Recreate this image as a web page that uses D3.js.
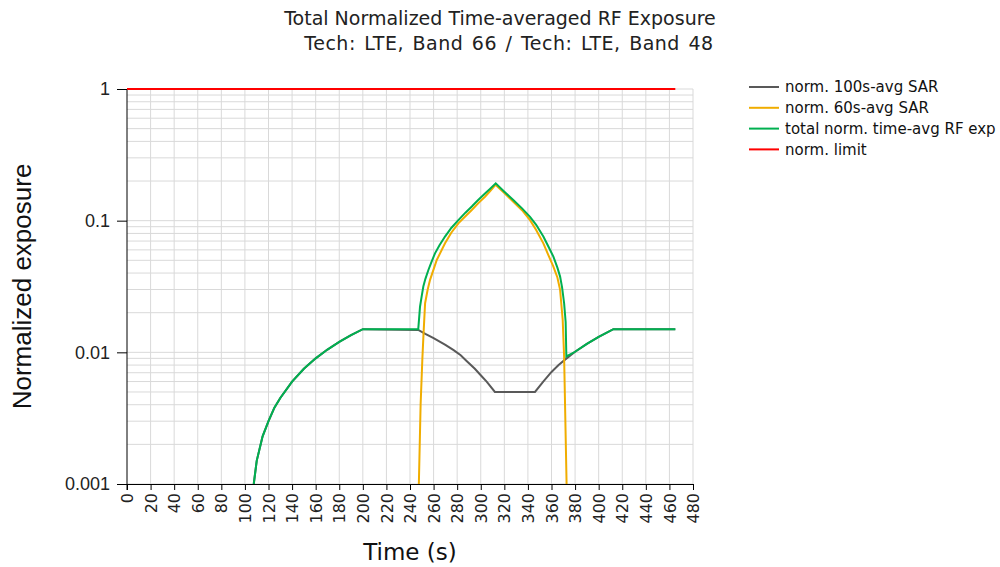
<!DOCTYPE html>
<html>
<head>
<meta charset="utf-8">
<script src="https://cdn.jsdelivr.net/npm/d3@7"></script>
<style>
  body { margin: 0; background: #fff; }
  .grid line { stroke: #d9d9d9; stroke-width: 1; }
  .axis path, .axis line { stroke: #000; }
</style>
</head>
<body>
<div id="chart"></div>
<script>
// time (s) and normalized values
var greyT = [107.5, 110, 115, 120, 125, 130, 140, 150, 160, 170, 180, 190, 200, 247, 253, 260, 270, 277, 283, 288, 295, 300, 305, 312, 346, 353, 360, 366, 371.5, 380, 390, 400, 412.5, 465];
var greyV = [0.001, 0.0015, 0.0023, 0.003, 0.0038, 0.0045, 0.006, 0.0075, 0.009, 0.0105, 0.012, 0.0135, 0.015, 0.0148, 0.0138, 0.0128, 0.0114, 0.0104, 0.0095, 0.0086, 0.0075, 0.0067, 0.006, 0.005, 0.005, 0.006, 0.0071, 0.008, 0.0088, 0.0101, 0.0116, 0.0131, 0.015, 0.015];

var orangeT = [247.5, 249, 250.5, 251.5, 252.8, 255, 257, 262.7, 269.7, 275, 281, 287, 292.4, 298, 303.6, 308, 312.5, 320, 327.6, 335, 341.8, 347, 353.1, 358, 361.6, 365, 367.3, 369.5, 370.7, 372.8];
var orangeV = [0.001, 0.004, 0.009, 0.014, 0.0236, 0.03, 0.0355, 0.0503, 0.0673, 0.081, 0.0955, 0.108, 0.1205, 0.136, 0.152, 0.168, 0.187, 0.162, 0.139, 0.12, 0.101, 0.085, 0.0673, 0.053, 0.0448, 0.037, 0.0298, 0.0176, 0.0093, 0.001];

var greenT = [107.5, 110, 115, 120, 125, 130, 140, 150, 160, 170, 180, 190, 200, 247, 248.5, 250, 251.3, 253, 255.6, 258, 261.2, 265, 269.7, 275, 281, 287, 292.4, 298, 303.6, 308, 312.7, 320, 327.6, 335, 341.8, 347, 353.1, 358, 361.6, 365, 367.3, 369, 370.7, 372, 372.6, 380, 390, 400, 412.5, 465];
var greenV = [0.001, 0.0015, 0.0023, 0.003, 0.0038, 0.0045, 0.006, 0.0075, 0.009, 0.0105, 0.012, 0.0135, 0.015, 0.015, 0.0222, 0.027, 0.0316, 0.036, 0.0422, 0.048, 0.0565, 0.065, 0.0757, 0.088, 0.101, 0.115, 0.128, 0.144, 0.161, 0.175, 0.192, 0.166, 0.1436, 0.124, 0.107, 0.093, 0.0757, 0.062, 0.0533, 0.044, 0.0376, 0.031, 0.0236, 0.017, 0.0093, 0.0101, 0.0116, 0.0131, 0.015, 0.015];

var limitT = [0, 465];
var limitV = [1, 1];

var seriesNames = ["norm. 100s-avg SAR", "norm. 60s-avg SAR", "total norm. time-avg RF exp", "norm. limit"];
var seriesColors = ["#595959", "#f0ad00", "#00b050", "#ff0000"];

var xTicks = d3.range(0, 481, 20);
var yTicks = [0.001, 0.01, 0.1, 1];

document.addEventListener("DOMContentLoaded", function() {
    var W = 1000, H = 567;
    var margin = {left: 127, top: 89, right: 307, bottom: 83};
    var width = W - margin.left - margin.right;
    var height = H - margin.top - margin.bottom;

    var svg = d3.select("#chart").append("svg")
        .attr("width", W).attr("height", H);

    var x = d3.scaleLinear().domain([0, 480]).range([0, width]);
    var y = d3.scaleLog().domain([0.001, 1]).range([height, 0]);

    var g = svg.append("g")
        .attr("transform", "translate(" + margin.left + "," + margin.top + ")");

    // grid
    g.append("g").attr("class", "grid")
        .selectAll("line").data(y.ticks()).enter().append("line")
        .attr("x1", 0).attr("x2", width)
        .attr("y1", d => y(d)).attr("y2", d => y(d));
    g.append("g").attr("class", "grid")
        .selectAll("line").data(xTicks.slice(1)).enter().append("line")
        .attr("x1", d => x(d)).attr("x2", d => x(d))
        .attr("y1", 0).attr("y2", height);

    // axes
    var xAxis = g.append("g").attr("class", "axis")
        .attr("transform", "translate(0," + height + ")")
        .call(d3.axisBottom(x).tickValues(xTicks).tickSize(6).tickSizeOuter(0));
    xAxis.selectAll("text")
        .attr("transform", "rotate(-90)")
        .attr("x", -9).attr("y", 0).attr("dy", "0.35em")
        .style("text-anchor", "end")
        .style("font-family", "DejaVu Sans")
        .style("font-size", "16px")
        .style("fill", "#222");

    var yAxis = g.append("g").attr("class", "axis")
        .call(d3.axisLeft(y).tickValues(yTicks).tickFormat(d3.format("~g")).tickSize(10).tickSizeOuter(0));
    yAxis.selectAll("text")
        .attr("x", -17)
        .style("font-family", "Liberation Sans")
        .style("font-size", "18px")
        .style("fill", "#222");
    yAxis.select(".domain").attr("d", "M0,0V" + (height + 6));

    // lines
    svg.append("clipPath").attr("id", "clip")
        .append("rect").attr("width", width).attr("height", height + 1).attr("y", -1);

    var series = [
        {t: greyT, v: greyV},
        {t: orangeT, v: orangeV},
        {t: greenT, v: greenV},
        {t: limitT, v: limitV}
    ];

    var line = d3.line()
        .x(d => x(d[0]))
        .y(d => y(d[1]));

    series.forEach(function(s, i) {
        var pts = s.t.map((t, k) => [t, s.v[k]]);
        g.append("path")
            .datum(pts)
            .attr("clip-path", "url(#clip)")
            .attr("fill", "none")
            .attr("stroke", seriesColors[i])
            .attr("stroke-width", 2)
            .attr("d", line);
    });

    // titles
    svg.append("text")
        .attr("x", 500).attr("y", 25)
        .attr("text-anchor", "middle")
        .style("font-family", "DejaVu Sans").style("font-size", "19px").style("fill", "#222")
        .text("Total Normalized Time-averaged RF Exposure");
    svg.append("text")
        .attr("x", 509).attr("y", 50)
        .attr("text-anchor", "middle")
        .style("font-family", "DejaVu Sans").style("font-size", "19px").style("fill", "#222")
        .style("letter-spacing", "0.5px").style("word-spacing", "2px")
        .text("Tech: LTE, Band 66 / Tech: LTE, Band 48");

    svg.append("text")
        .attr("transform", "translate(31," + (margin.top + height / 2) + ") rotate(-90)")
        .attr("text-anchor", "middle")
        .style("font-family", "Liberation Sans").style("font-size", "26px").style("fill", "#111")
        .text("Normalized exposure");
    svg.append("text")
        .attr("x", margin.left + width / 2).attr("y", 560)
        .attr("text-anchor", "middle")
        .style("font-family", "DejaVu Sans").style("font-size", "23px").style("fill", "#111")
        .text("Time (s)");

    // legend
    var leg = svg.append("g").attr("transform", "translate(749,87)");
    seriesNames.forEach(function(n, i) {
        var row = leg.append("g").attr("transform", "translate(0," + (i * 20.8) + ")");
        row.append("line").attr("x1", 0).attr("x2", 30)
            .attr("stroke", seriesColors[i]).attr("stroke-width", 2);
        row.append("text").attr("x", 36).attr("dy", "0.35em")
            .style("font-family", "DejaVu Sans").style("font-size", "15px").style("fill", "#111")
            .text(n);
    });
});
</script>
</body>
</html>
